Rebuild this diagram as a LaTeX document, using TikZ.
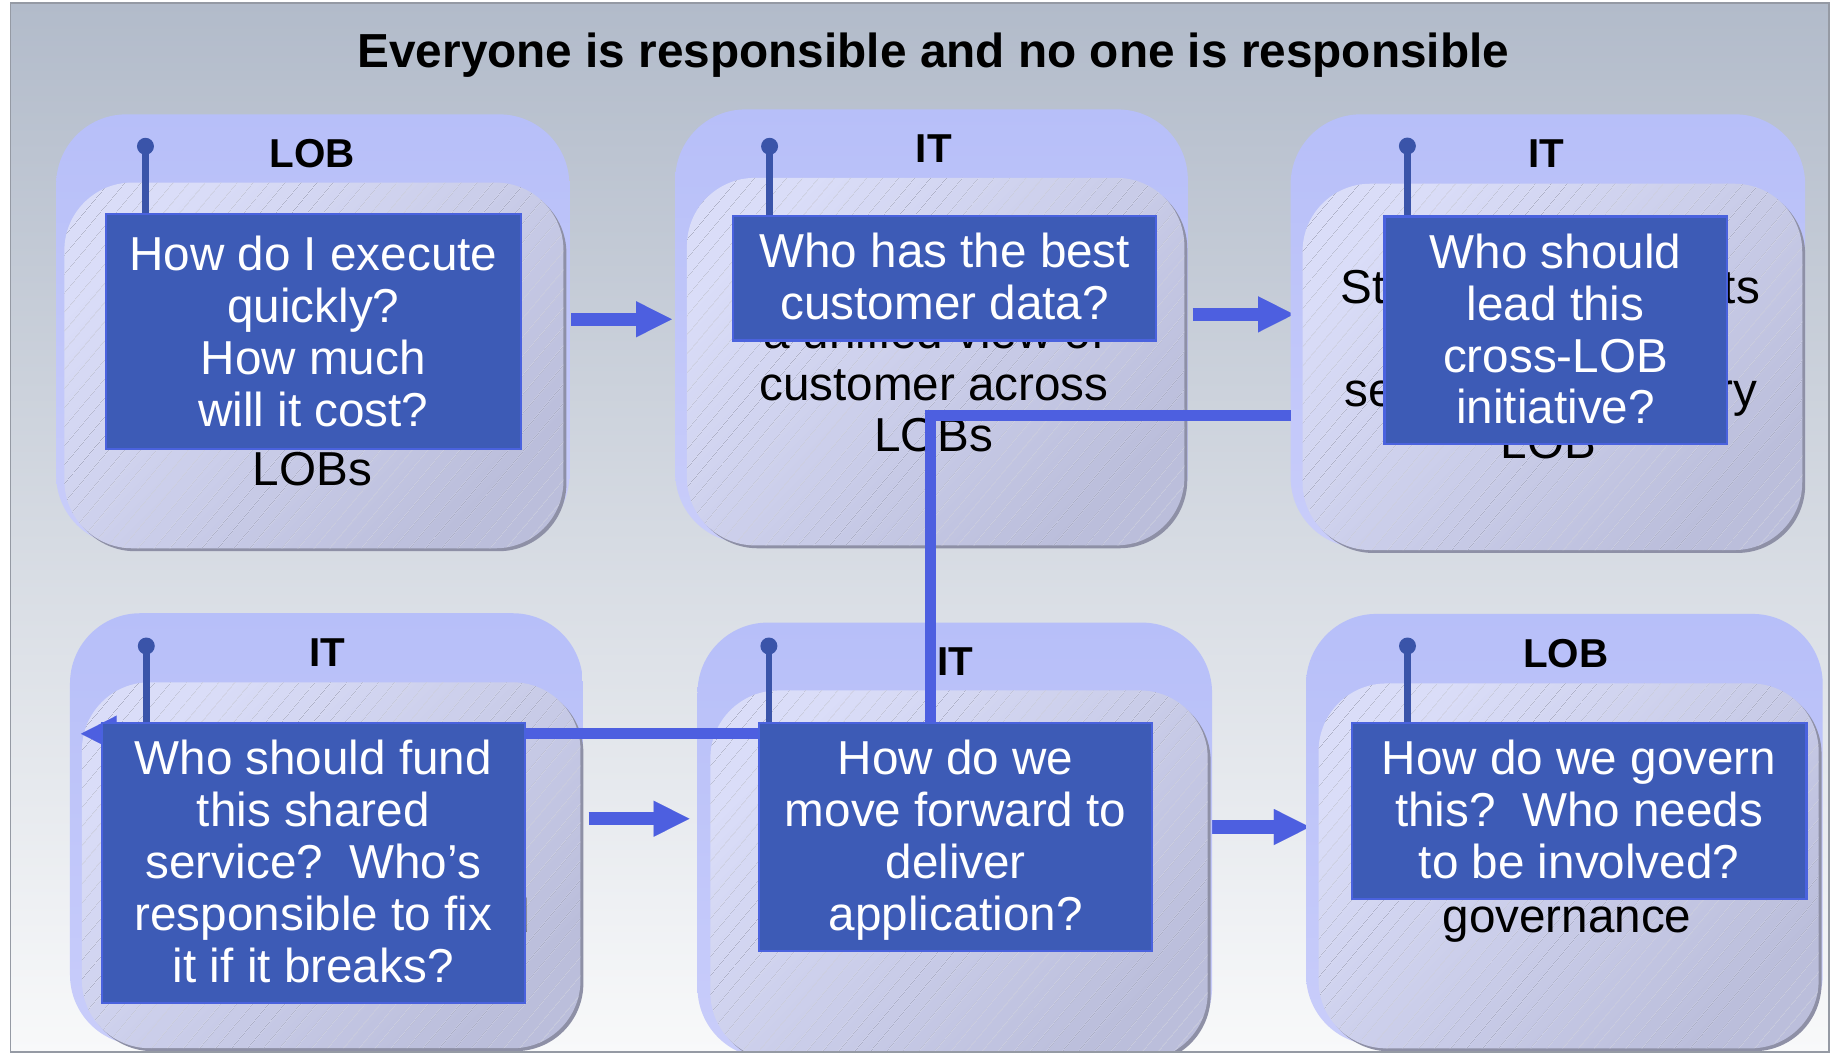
\documentclass[tikz,border=0pt]{standalone}
\usepackage{fontspec}
\setmainfont{Liberation Sans}
\usetikzlibrary{arrows.meta,shadows,patterns.meta}
\definecolor{bgtop}{HTML}{B2BBCA}
\definecolor{bgbot}{HTML}{F8F9FA}
\definecolor{frameC}{HTML}{959AA4}
\definecolor{outerTop}{HTML}{B7BFF9}
\definecolor{outerBot}{HTML}{C9CDFA}
\definecolor{innerL}{HTML}{DADDF8}
\definecolor{innerD}{HTML}{BBBEDB}
\definecolor{hatchC}{HTML}{A9ACC7}
\definecolor{shadowC}{HTML}{8E90A6}
\definecolor{boxFill}{HTML}{3D5BB6}
\definecolor{boxLine}{HTML}{4A62DE}
\definecolor{pinC}{HTML}{3A54A9}
\definecolor{arrowC}{HTML}{4D5FE0}
\newcommand\qsize{\fontsize{40.7pt}{44.3pt}\selectfont}
\newcommand\lsize{\fontsize{34.5pt}{40pt}\selectfont\bfseries}
\newcommand\tsize{\fontsize{40.8pt}{46pt}\selectfont\bfseries}
\tikzset{
  outerp/.style={rectangle, rounded corners=60pt, inner sep=0pt, top color=outerTop, bottom color=outerBot},
  innerp/.style={rectangle, rounded corners=58pt, inner sep=0pt, top color=innerL, bottom color=innerD, shading angle=45,
     drop shadow={shadow xshift=2.5pt, shadow yshift=-2.5pt, fill=shadowC, opacity=1},
     postaction={pattern={Lines[angle=50,distance=10.5pt,line width=0.6pt]}, pattern color=hatchC}},
  qbox/.style={rectangle, inner sep=0pt, fill=boxFill, draw=boxLine, line width=1.8pt},
  qtext/.style={anchor=base, inner sep=0pt, text=white, font=\qsize},
  btext/.style={anchor=base, inner sep=0pt, text=black, font=\qsize},
  lbl/.style={anchor=base, inner sep=0pt, text=black, font=\lsize},
  pinline/.style={draw=pinC, line width=5.5pt},
  pinhead/.style={circle, fill=pinC, minimum size=14.5pt, inner sep=0pt},
  flow/.style={draw=arrowC, line width=11.4pt, -{Triangle[length=30.5pt,width=30.8pt,line width=0.01pt]}},
  conn/.style={draw=arrowC, line width=9.5pt, -{Triangle[length=30.5pt,width=31pt,line width=0.01pt]}},
}
\begin{document}
\begin{tikzpicture}[x=1pt,y=-1pt]
\useasboundingbox (0,0) rectangle (1568,901);
\fill[white] (0,0) rectangle (1568,901);
\shade[top color=bgtop, bottom color=bgbot] (9,2.5) rectangle (1563,899);
\begin{scope}
\clip (9,2.5) rectangle (1563,899);
\node[anchor=base, inner sep=0pt, font=\tsize] (title) at (797.5,58) {Everyone is responsible and no one is responsible};

% flow arrows (under panels)
\coordinate (a1s) at (488,272.8);  \coordinate (a1e) at (574,272.8);
\coordinate (a2s) at (1019,268.6); \coordinate (a2e) at (1105.5,268.6);
\coordinate (a3s) at (503,699.6);  \coordinate (a3e) at (589,699.6);
\coordinate (a4s) at (1034,706.7); \coordinate (a4e) at (1119,706.7);
\draw[flow] (a1s) -- (a1e);
\draw[flow] (a2s) -- (a2e);
\draw[flow] (a3s) -- (a3e);
\draw[flow] (a4s) -- (a4e);

% panel 1
\node[outerp, minimum width=438.5pt, minimum height=368.3pt] (o1) at (267.25,281.85) {};
\node[innerp, minimum width=426.5pt, minimum height=312.5pt] (i1) at (268.25,312.25) {};
\node[lbl] (l1) at (267,143.4) {LOB};
\node[btext] (bt1) at (267,415) {LOBs};
% panel 2
\node[outerp, minimum width=438pt, minimum height=370.5pt] (o2) at (796,278.75) {};
\node[innerp, minimum width=425pt, minimum height=314pt] (i2) at (799.5,309) {};
\node[lbl] (l2) at (798,138.8) {IT};
\node[btext] (bt2) at (798,297.6) {\begin{tabular}[t]{@{}c@{}}a unified view of\\customer across\\LOBs\end{tabular}};
% panel 3
\node[outerp, minimum width=439.7pt, minimum height=370.3pt] (o3) at (1322.65,282.85) {};
\node[innerp, minimum width=427pt, minimum height=313pt] (i3) at (1326.5,313.5) {};
\node[lbl] (l3) at (1321.6,143) {IT};
\node[btext, anchor=base west] (f3a) at (1145.5,259) {St};
\node[btext, anchor=base east] (f3b) at (1504,259) {ts};
\node[btext, anchor=base west] (f3c) at (1148.6,347.6) {se};
\node[btext, anchor=base east] (f3d) at (1502,347.6) {ry};
\node[btext] (f3e) at (1323,391.9) {LOB};
% panel 4
\node[outerp, minimum width=438.2pt, minimum height=369pt] (o4) at (278.9,708.5) {};
\node[innerp, minimum width=426pt, minimum height=312.7pt] (i4) at (283,739.35) {};
\node[lbl] (l4) at (280,569.5) {IT};
\node[btext, anchor=base east] (f4) at (453,797) {d};
% panel 5
\node[outerp, minimum width=439.7pt, minimum height=372pt] (o5) at (815.85,718) {};
\node[innerp, minimum width=425pt, minimum height=316pt] (i5) at (819.5,748) {};
\node[lbl] (l5) at (816,577.5) {IT};
% panel 6
\node[outerp, minimum width=441.5pt, minimum height=368.4pt] (o6) at (1336.75,708.8) {};
\node[innerp, minimum width=427.3pt, minimum height=311.8pt] (i6) at (1340.35,739.9) {};
\node[lbl] (l6) at (1337.8,570) {LOB};
\node[btext] (bt6) at (1339,797) {governance};

% elbow connector
\coordinate (c3) at (1102.8,355);
\coordinate (cb) at (795,627);
\coordinate (c4) at (69.2,627);
\draw[conn] (c3) -| (cb) -- (c4);

% question boxes
\node[qbox, minimum width=354.5pt, minimum height=201pt] (b1) at (267.75,283.5) {};
\node[qbox, minimum width=361.4pt, minimum height=106.4pt] (b2) at (807.3,237.8) {};
\node[qbox, minimum width=292.5pt, minimum height=194.7pt] (b3) at (1329.25,282.35) {};
\node[qbox, minimum width=361.4pt, minimum height=239.8pt] (b4) at (267.7,737.4) {};
\node[qbox, minimum width=335.7pt, minimum height=194.6pt] (b5) at (816.65,715.3) {};
\node[qbox, minimum width=388.6pt, minimum height=150.5pt] (b6) at (1349.3,692.75) {};

% pins
\node[pinhead] (p1) at (124.3,125) {};
\node[pinhead] (p2) at (657.6,125) {};
\node[pinhead] (p3) at (1202.6,124.8) {};
\node[pinhead] (p4) at (125,552) {};
\node[pinhead] (p5) at (657,552) {};
\node[pinhead] (p6) at (1202.7,552) {};
\draw[pinline] (p1.center) -- (p1.center |- b1.north);
\draw[pinline] (p2.center) -- (p2.center |- b2.north);
\draw[pinline] (p3.center) -- (p3.center |- b3.north);
\draw[pinline] (p4.center) -- (p4.center |- b4.north);
\draw[pinline] (p5.center) -- (p5.center |- b5.north);
\draw[pinline] (p6.center) -- (p6.center |- b6.north);

% question texts
\node[qtext] (q1) at (267.75,231.5) {\begin{tabular}[t]{@{}c@{}}How do I execute\\quickly?\\How much\\will it cost?\end{tabular}};
\node[qtext] (q2) at (807.3,228.5) {\begin{tabular}[t]{@{}c@{}}Who has the best\\customer data?\end{tabular}};
\node[qtext] (q3) at (1329.25,229.3) {\begin{tabular}[t]{@{}c@{}}Who should\\lead this\\cross-LOB\\initiative?\end{tabular}};
\node[qtext] (q4) at (267.7,662.2) {\begin{tabular}[t]{@{}c@{}}Who should fund\\this shared\\service?\ \ Who’s\\responsible to fix\\it if it breaks?\end{tabular}};
\node[qtext] (q5) at (816.65,662.2) {\begin{tabular}[t]{@{}c@{}}How do we\\move forward to\\deliver\\application?\end{tabular}};
\node[qtext] (q6) at (1349.3,662.2) {\begin{tabular}[t]{@{}c@{}}How do we govern\\this?\ \ Who needs\\to be involved?\end{tabular}};
\end{scope}
\draw[frameC, line width=1.5pt] (9,2.5) rectangle (1563,899);
\end{tikzpicture}
\end{document}
